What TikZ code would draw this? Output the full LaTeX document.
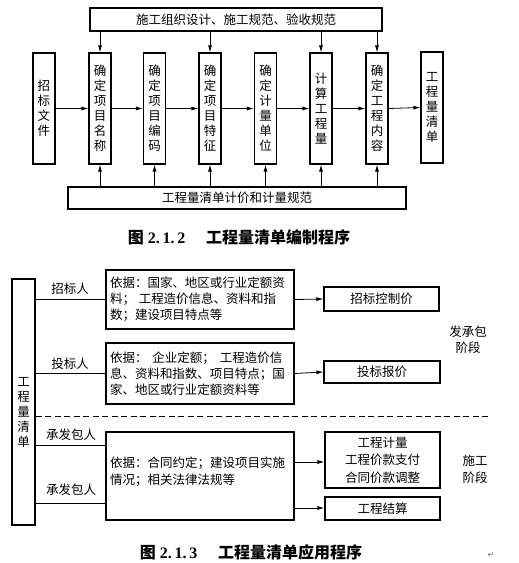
\documentclass[tikz,border=0pt]{standalone}
\usepackage{fontspec}
\setmainfont{Noto Sans CJK SC}
\newfontfamily\serifb{Liberation Serif}
\newfontfamily\symf{DejaVu Sans}
\usetikzlibrary{arrows.meta}
\begin{document}
\begin{tikzpicture}[x=1pt,y=-1pt,
  bx/.style={draw,line width=1.1pt,inner sep=0pt,font=\fontsize{12.5}{15}\selectfont},
  vbox/.style={bx,minimum width=22pt,minimum height=111pt,align=center},
  tbox/.style={bx,align=left,text width=180pt,font=\fontsize{12.5}{16}\selectfont},
  lbl/.style={font=\fontsize{12.5}{15}\selectfont,inner sep=0pt},
  arr/.style={-{Latex[length=7pt,width=4pt]},line width=0.8pt},
  ln/.style={line width=0.8pt},
  captxt/.style={font=\fontsize{16}{19}\selectfont\bfseries,inner sep=0pt}]
\fill[white] (0,0) rectangle (519,563);
\useasboundingbox (0,0) rectangle (519,563);

% ---------- Figure 2.1.2 ----------
\node[bx,minimum width=292pt,minimum height=23pt] (top) at (236,19.5) {施工组织设计、施工规范、验收规范};
\node[bx,minimum width=338pt,minimum height=22pt] (bot) at (237,198) {工程量清单计价和计量规范};

\node[vbox] (n0) at (44,108.5)  {招\\标\\文\\件};
\node[vbox] (n1) at (100,108.5) {确\\定\\项\\目\\名\\称};
\node[vbox] (n2) at (154.5,108.5) {确\\定\\项\\目\\编\\码};
\node[vbox] (n3) at (210,108.5) {确\\定\\项\\目\\特\\征};
\node[vbox] (n4) at (265.5,108.5) {确\\定\\计\\量\\单\\位};
\node[vbox] (n5) at (321,108.5) {计\\算\\工\\程\\量};
\node[vbox] (n6) at (377,108.5) {确\\定\\工\\程\\内\\容};
\node[vbox] (n7) at (432,107.5) {工\\程\\量\\清\\单};

\foreach \a/\b in {n0/n1,n1/n2,n2/n3,n3/n4,n4/n5,n5/n6,n6/n7}
  \draw[arr] (\a.east) -- (\b.west);
\foreach \n in {n1,n3,n5,n6}
  \draw[arr] (top.south -| \n) -- (\n.north);
\foreach \n in {n1,n2,n3,n4,n5,n6}
  \draw[arr] (bot.north -| \n) -- (\n.south);

\node[captxt] (cap1) at (239,237) {图\hspace{0.25em}{\serifb 2.\,1.\,2}\hspace{1.3em}工程量清单编制程序};

% ---------- Figure 2.1.3 ----------
\node[bx,minimum width=23pt,minimum height=246pt] (L) at (23.5,402) {};
\node[lbl,align=center] (Lt) at (23.5,412) {\fontsize{12.5}{16}\selectfont 工\\程\\量\\清\\单};

\node[tbox,minimum width=188pt,minimum height=59pt] (B1) at (200,299.5)
  {依据：国家、地区或行业定额资\\料；\hspace{0.3em}工程造价信息、资料和指\\数；建设项目特点等};
\node[tbox,minimum width=188pt,minimum height=61pt] (B2) at (200,373.5)
  {依据：\hspace{0.4em}企业定额；\hspace{0.4em}工程造价信\\息、资料和指数、项目特点；国\\家、地区或行业定额资料等};
\node[bx,minimum width=188pt,minimum height=88pt] (B3) at (200,476) {};
\node[lbl,anchor=west,align=left,font=\fontsize{12.5}{17}\selectfont] (B3t) at (110,471.5)
  {依据：合同约定；建设项目实施\\情况；相关法律法规等};

\node[bx,minimum width=115pt,minimum height=24pt] (R1) at (381.5,299) {招标控制价};
\node[bx,minimum width=116pt,minimum height=22pt] (R2) at (382,372) {投标报价};
\node[bx,minimum width=115pt,minimum height=56pt,align=center,font=\fontsize{12.5}{17.5}\selectfont] (R3) at (382.5,460)
  {工程计量\\工程价款支付\\合同价款调整};
\node[bx,minimum width=115pt,minimum height=23pt] (R4) at (382.5,508.5) {工程结算};

\coordinate (c3) at (106,445);
\coordinate (c4) at (106,503);
\coordinate (d3) at (294,462);
\coordinate (d4) at (294,508);

\draw[ln] (L.east |- B1.west) -- (B1.west);
\draw[ln] (L.east |- B2.west) -- (B2.west);
\draw[ln] (L.east |- c3) -- (c3);
\draw[ln] (L.east |- c4) -- (c4);

\node[lbl] (p1) at (70,289) {招标人};
\node[lbl] (p2) at (70,364) {投标人};
\node[lbl] (p3) at (71,435) {承发包人};
\node[lbl] (p4) at (71,490) {承发包人};

\draw[arr] (B1.east) -- (R1.west);
\draw[arr] (B2.east) -- (R2.west);
\draw[arr] (d3) -- (R3.west |- d3);
\draw[arr] (d4) -- (R4.west |- d4);

\coordinate (dd) at (488,416);
\draw[ln,dash pattern=on 6pt off 3.5pt] (L.east |- dd) -- (dd);

\node[lbl,align=center,font=\fontsize{12.5}{16}\selectfont] (s1) at (468,340) {发承包\\阶段};
\node[lbl,align=center,font=\fontsize{12.5}{17}\selectfont] (s2) at (475,469.5) {施工\\阶段};

\node[captxt] (cap2) at (251,552) {图\hspace{0.25em}{\serifb 2.\,1.\,3}\hspace{1.3em}工程量清单应用程序};
\node[inner sep=0pt,font=\symf\fontsize{8}{9}\selectfont,text=black!55] (ret) at (491,555) {↵};
\end{tikzpicture}
\end{document}
